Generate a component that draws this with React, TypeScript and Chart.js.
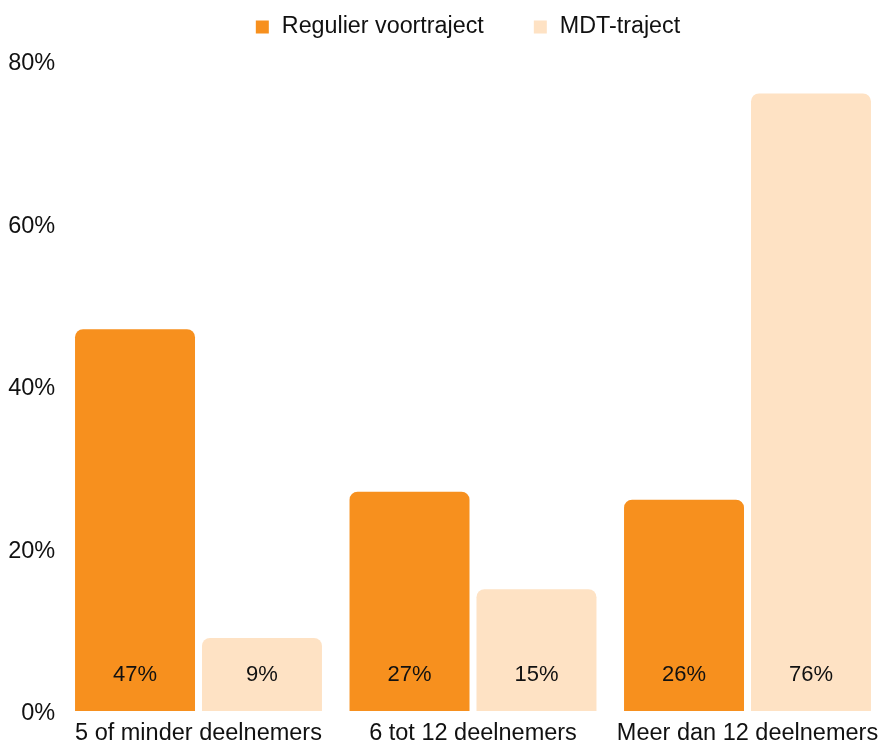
import React, { useEffect, useRef } from 'react';
import { Chart, registerables } from 'chart.js';

Chart.register(...registerables);

const categories = ['5 of minder deelnemers', '6 tot 12 deelnemers', 'Meer dan 12 deelnemers'];
const seriesNames = ['Regulier voortraject', 'MDT-traject'];
const regulier = [47, 27, 26];
const mdt = [9, 15, 76];
const seriesColors = ['#F7901E', '#FEE2C4'];
const yMin = 0;
const yMax = 80;
const yStep = 20;

const FONT = "'Liberation Sans', Arial, Helvetica, sans-serif";
const TEXT = '#111111';

const legendPlugin = {
  id: 'customLegend',
  afterDraw(chart: any) {
    const ctx = chart.ctx;
    ctx.save();
    ctx.font = `23.3px ${FONT}`;
    const box = 13;
    const boxGap = 13;
    const itemGap = 50;
    const widths = chart.data.datasets.map((d: any) => ctx.measureText(d.label).width);
    const total = widths.reduce((a: number, w: number) => a + box + boxGap + w, 0) + itemGap * (widths.length - 1);
    const ca = chart.chartArea;
    let x = (ca.left + ca.right) / 2 - 5 - total / 2;
    const cy = 27;
    chart.data.datasets.forEach((d: any, i: number) => {
      ctx.fillStyle = d.backgroundColor;
      ctx.fillRect(x, cy - box / 2, box, box);
      x += box + boxGap;
      ctx.fillStyle = TEXT;
      ctx.textBaseline = 'middle';
      ctx.textAlign = 'left';
      ctx.fillText(d.label, x, cy);
      x += widths[i] + itemGap;
    });
    ctx.restore();
  },
};

const dataLabelPlugin = {
  id: 'barLabels',
  afterDatasetsDraw(chart: any) {
    const ctx = chart.ctx;
    const base = chart.scales.y.getPixelForValue(0);
    ctx.save();
    ctx.font = `22px ${FONT}`;
    ctx.fillStyle = TEXT;
    ctx.textAlign = 'center';
    ctx.textBaseline = 'middle';
    chart.data.datasets.forEach((d: any, di: number) => {
      const meta = chart.getDatasetMeta(di);
      meta.data.forEach((bar: any, i: number) => {
        ctx.fillText(`${d.data[i]}%`, bar.x, base - 36);
      });
    });
    ctx.restore();
  },
};

export default function App() {
  const ref = useRef<HTMLCanvasElement | null>(null);

  useEffect(() => {
    if (!ref.current) return;
    const chart = new Chart(ref.current, {
      type: 'bar',
      data: {
        labels: categories,
        datasets: [
          {
            label: seriesNames[0],
            data: regulier,
            backgroundColor: seriesColors[0],
            borderRadius: 8,
            barPercentage: 0.945,
            categoryPercentage: 0.925,
          },
          {
            label: seriesNames[1],
            data: mdt,
            backgroundColor: seriesColors[1],
            borderRadius: 8,
            barPercentage: 0.945,
            categoryPercentage: 0.925,
          },
        ],
      },
      options: {
        animation: false,
        responsive: false,
        devicePixelRatio: 1,
        layout: { padding: { top: 61, right: 5.25, left: 0, bottom: 0 } },
        plugins: {
          legend: { display: false },
          tooltip: { enabled: false },
        },
        scales: {
          x: {
            grid: { display: false, drawTicks: false },
            border: { display: false },
            ticks: {
              padding: 8,
              color: TEXT,
              font: { family: FONT, size: 23.5 },
              maxRotation: 0,
              autoSkip: false,
            },
            afterFit(scale: any) {
              scale.height = 31;
            },
          },
          y: {
            min: yMin,
            max: yMax,
            grid: { display: false, drawTicks: false },
            border: { display: false },
            ticks: {
              stepSize: yStep,
              padding: 6,
              labelOffset: 3,
              color: TEXT,
              font: { family: FONT, size: 23.5 },
              callback: (v: any) => `${v}%`,
            },
            afterFit(scale: any) {
              scale.width = 61.25;
            },
          },
        },
      },
      plugins: [legendPlugin, dataLabelPlugin],
    });
    return () => chart.destroy();
  }, []);

  return (
    <div style={{ position: 'absolute', left: 0, top: 0, width: 880, height: 742, overflow: 'hidden', background: '#fff' }}>
      <canvas ref={ref} width={890} height={742} style={{ display: 'block' }} />
    </div>
  );
}
